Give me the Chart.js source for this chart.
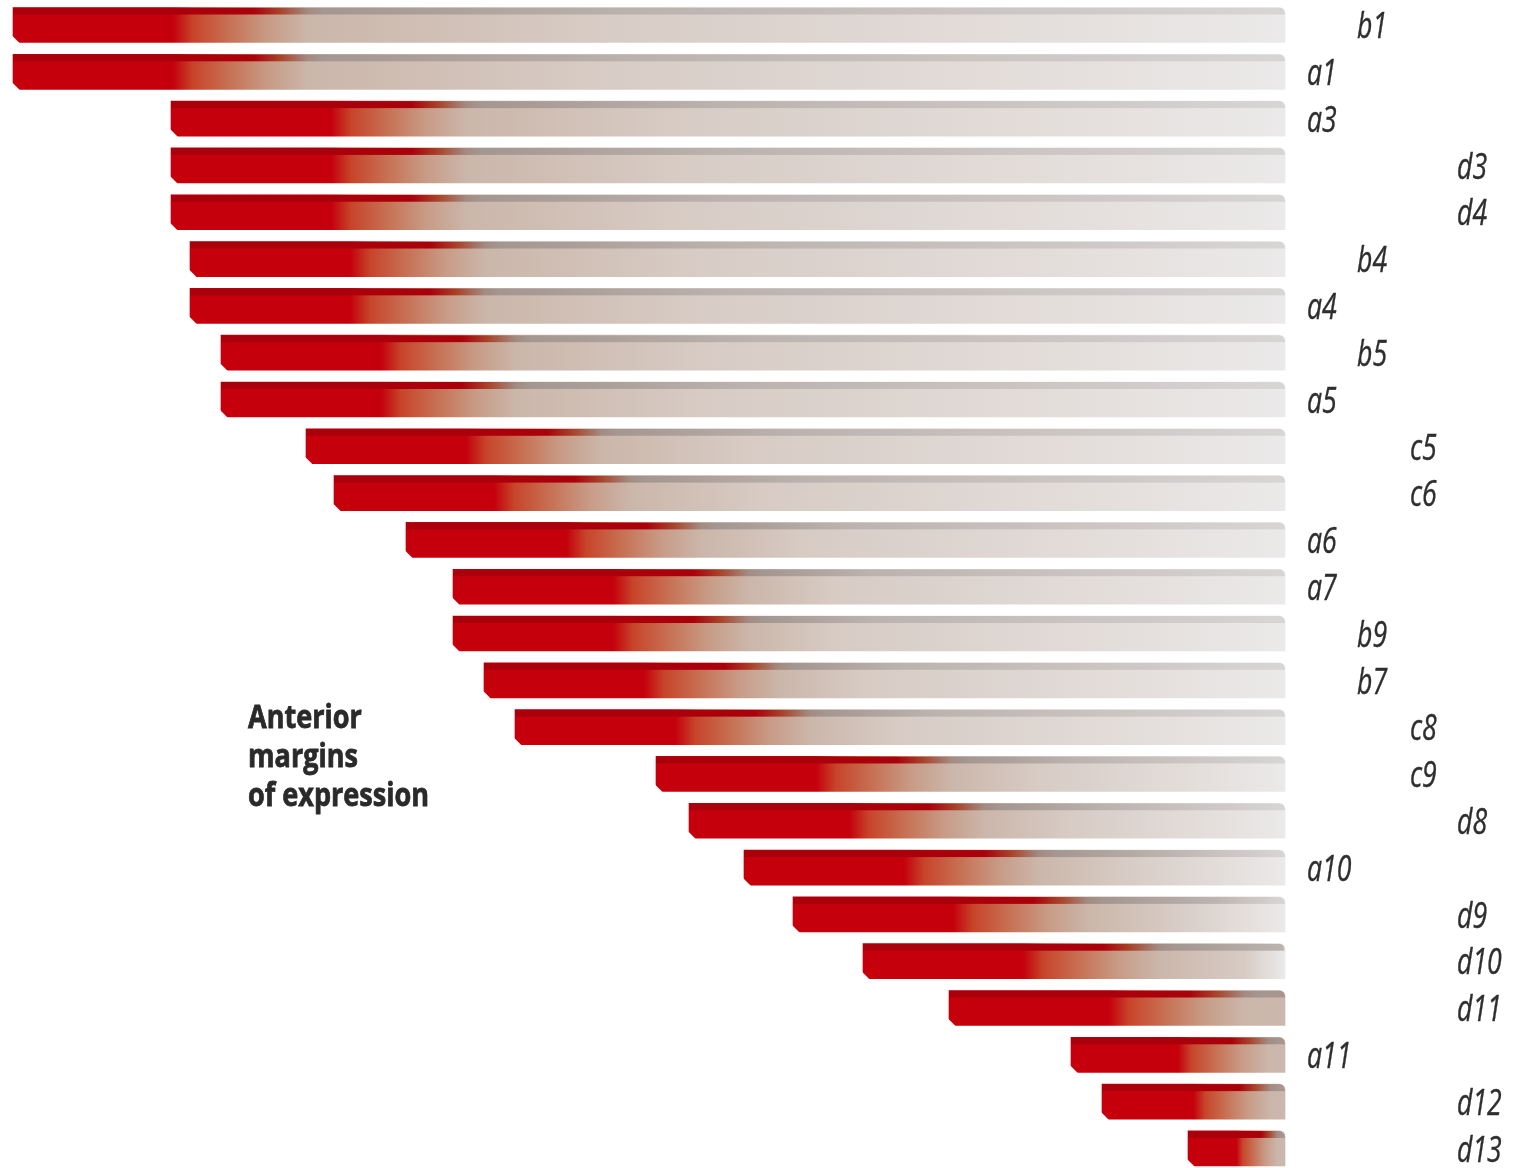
<!DOCTYPE html>
<html>
<head>
<meta charset="utf-8">
<script src="https://cdn.jsdelivr.net/npm/chart.js@4.4.1/dist/chart.umd.min.js"></script>
<style>
  html, body { margin: 0; padding: 0; background: #ffffff; }
  #wrap { width: 1513px; height: 1168px; position: relative; }
</style>
</head>
<body>
<div id="wrap"><canvas id="c" width="1513" height="1168"></canvas></div>
<script>
// ---- data ----
const genes = ['b1','a1','a3','d3','d4','b4','a4','b5','a5','c5','c6','a6','a7','b9','b7','c8','c9','d8','a10','d9','d10','d11','a11','d12','d13'];
const marginStart = [13,13,171,171,171,190,190,221,221,306,334,406,453,453,484,515,656,689,744,793,863,949,1071,1102,1188];
const marginEnd = [1285,1285,1285,1285,1285,1285,1285,1285,1285,1285,1285,1285,1285,1285,1285,1285,1285,1285,1285,1285,1285,1285,1285,1285,1285];
const annotationLines = ['Anterior', 'margins', 'of expression'];

// ---- styling helpers ----
const labelColumn = { a: 1307, b: 1357, c: 1410, d: 1457 };

function bodyGradient(ctx, x0, x1) {
  const len = x1 - x0;
  const s = Math.min(1, len / 320);
  const g = ctx.createLinearGradient(x0, 0, x1, 0);
  const stop = (px, col) => g.addColorStop(Math.min(1, Math.max(0, px / len)), col);
  stop(0, '#c5000c');
  stop(160 * s, '#c5000c');
  stop(180 * s, '#c7442a');
  stop(215 * s, '#c76f52');
  stop(255 * s, '#c89b86');
  stop(295 * s, '#cbb6aa');
  if (len > 380) {
    stop(Math.max(380, len * 0.45), '#d7cbc4');
    stop(len, '#ebe9e9');
  } else {
    stop(len, '#cbb8ad');
  }
  return g;
}

function stripGradient(ctx, x0, x1) {
  const len = x1 - x0;
  const s = Math.min(1, len / 320);
  const g = ctx.createLinearGradient(x0, 0, x1, 0);
  const stop = (px, col) => g.addColorStop(Math.min(1, Math.max(0, px / len)), col);
  stop(0, '#a9000b');
  stop(240 * s, '#a9000b');
  stop(268 * s, '#a8452c');
  stop(295 * s, '#a38b82');
  stop(310 * s, '#a49690');
  if (len > 380) {
    stop(Math.max(420, len * 0.5), '#bcb3af');
    stop(len, '#d8d5d5');
  } else {
    stop(len, '#a9968e');
  }
  return g;
}

const decorPlugin = {
  id: 'decor',
  afterDatasetsDraw(chart) {
    const ctx = chart.ctx;
    const meta = chart.getDatasetMeta(0);
    meta.data.forEach((bar) => {
      const p = bar.getProps(['x', 'y', 'base', 'height'], true);
      const left = Math.min(p.base, p.x), right = Math.max(p.base, p.x);
      const top = p.y - p.height / 2, bottom = p.y + p.height / 2;
      ctx.save();
      ctx.beginPath();
      ctx.roundRect(left, top, right - left, p.height, [0, 6, 0, 0]);
      ctx.clip();
      ctx.fillStyle = stripGradient(ctx, left, right);
      ctx.fillRect(left, top, right - left, 7);
      ctx.restore();
      // chamfer at bottom-left
      ctx.save();
      ctx.fillStyle = '#ffffff';
      ctx.beginPath();
      ctx.moveTo(left - 1, bottom - 7);
      ctx.lineTo(left - 1, bottom + 1);
      ctx.lineTo(left + 7, bottom + 1);
      ctx.closePath();
      ctx.fill();
      ctx.restore();
    });
    // gene labels
    const yScale = chart.scales.y;
    ctx.save();
    ctx.fillStyle = '#2e2e2e';
    ctx.strokeStyle = '#2e2e2e';
    ctx.lineWidth = 0.4;
    ctx.textBaseline = 'middle';
    ctx.font = 'italic 36px "Open Sans"';
    genes.forEach((g, i) => {
      const y = yScale.getPixelForValue(i) + 3;
      const x = labelColumn[g[0]];
      ctx.save();
      ctx.translate(x, y);
      ctx.scale(0.74, 1);
      ctx.fillText(g, 0, 0);
      ctx.strokeText(g, 0, 0);
      ctx.restore();
    });
    ctx.restore();
    // annotation
    ctx.save();
    ctx.fillStyle = '#2a2a2a';
    ctx.strokeStyle = '#2a2a2a';
    ctx.lineWidth = 0.8;
    ctx.textBaseline = 'alphabetic';
    ctx.font = 'bold 33px "Open Sans"';
    annotationLines.forEach((t, i) => {
      ctx.save();
      ctx.translate(248, 728 + i * 39);
      ctx.scale(0.82, 1);
      ctx.fillText(t, 0, 0);
      ctx.strokeText(t, 0, 0);
      ctx.restore();
    });
    ctx.restore();
  }
};

new Chart(document.getElementById('c'), {
  type: 'bar',
  data: {
    datasets: [{
      data: genes.map((g, i) => ({ x: [marginStart[i], marginEnd[i]], y: i })),
      barThickness: 35,
      borderSkipped: false,
      borderWidth: 0,
      borderRadius: { topLeft: 0, topRight: 6, bottomLeft: 0, bottomRight: 0 },
      backgroundColor: (c) => {
        const chart = c.chart;
        if (!c.raw || !chart.chartArea || !chart.scales.x) return '#c5000c';
        const x0 = chart.scales.x.getPixelForValue(c.raw.x[0]);
        const x1 = chart.scales.x.getPixelForValue(c.raw.x[1]);
        return bodyGradient(chart.ctx, x0, x1);
      }
    }]
  },
  options: {
    indexAxis: 'y',
    responsive: false,
    animation: false,
    layout: { padding: { left: 0, right: 213, top: 0, bottom: 0 } },
    plugins: { legend: { display: false }, tooltip: { enabled: false } },
    scales: {
      x: { type: 'linear', min: 0, max: 1300, display: false, offset: false },
      y: { type: 'linear', reverse: true, min: -0.534, max: 24.418, offset: false, grace: 0, display: false, grid: { display: false, offset: false } }
    }
  },
  plugins: [decorPlugin]
});
</script>
</body>
</html>
